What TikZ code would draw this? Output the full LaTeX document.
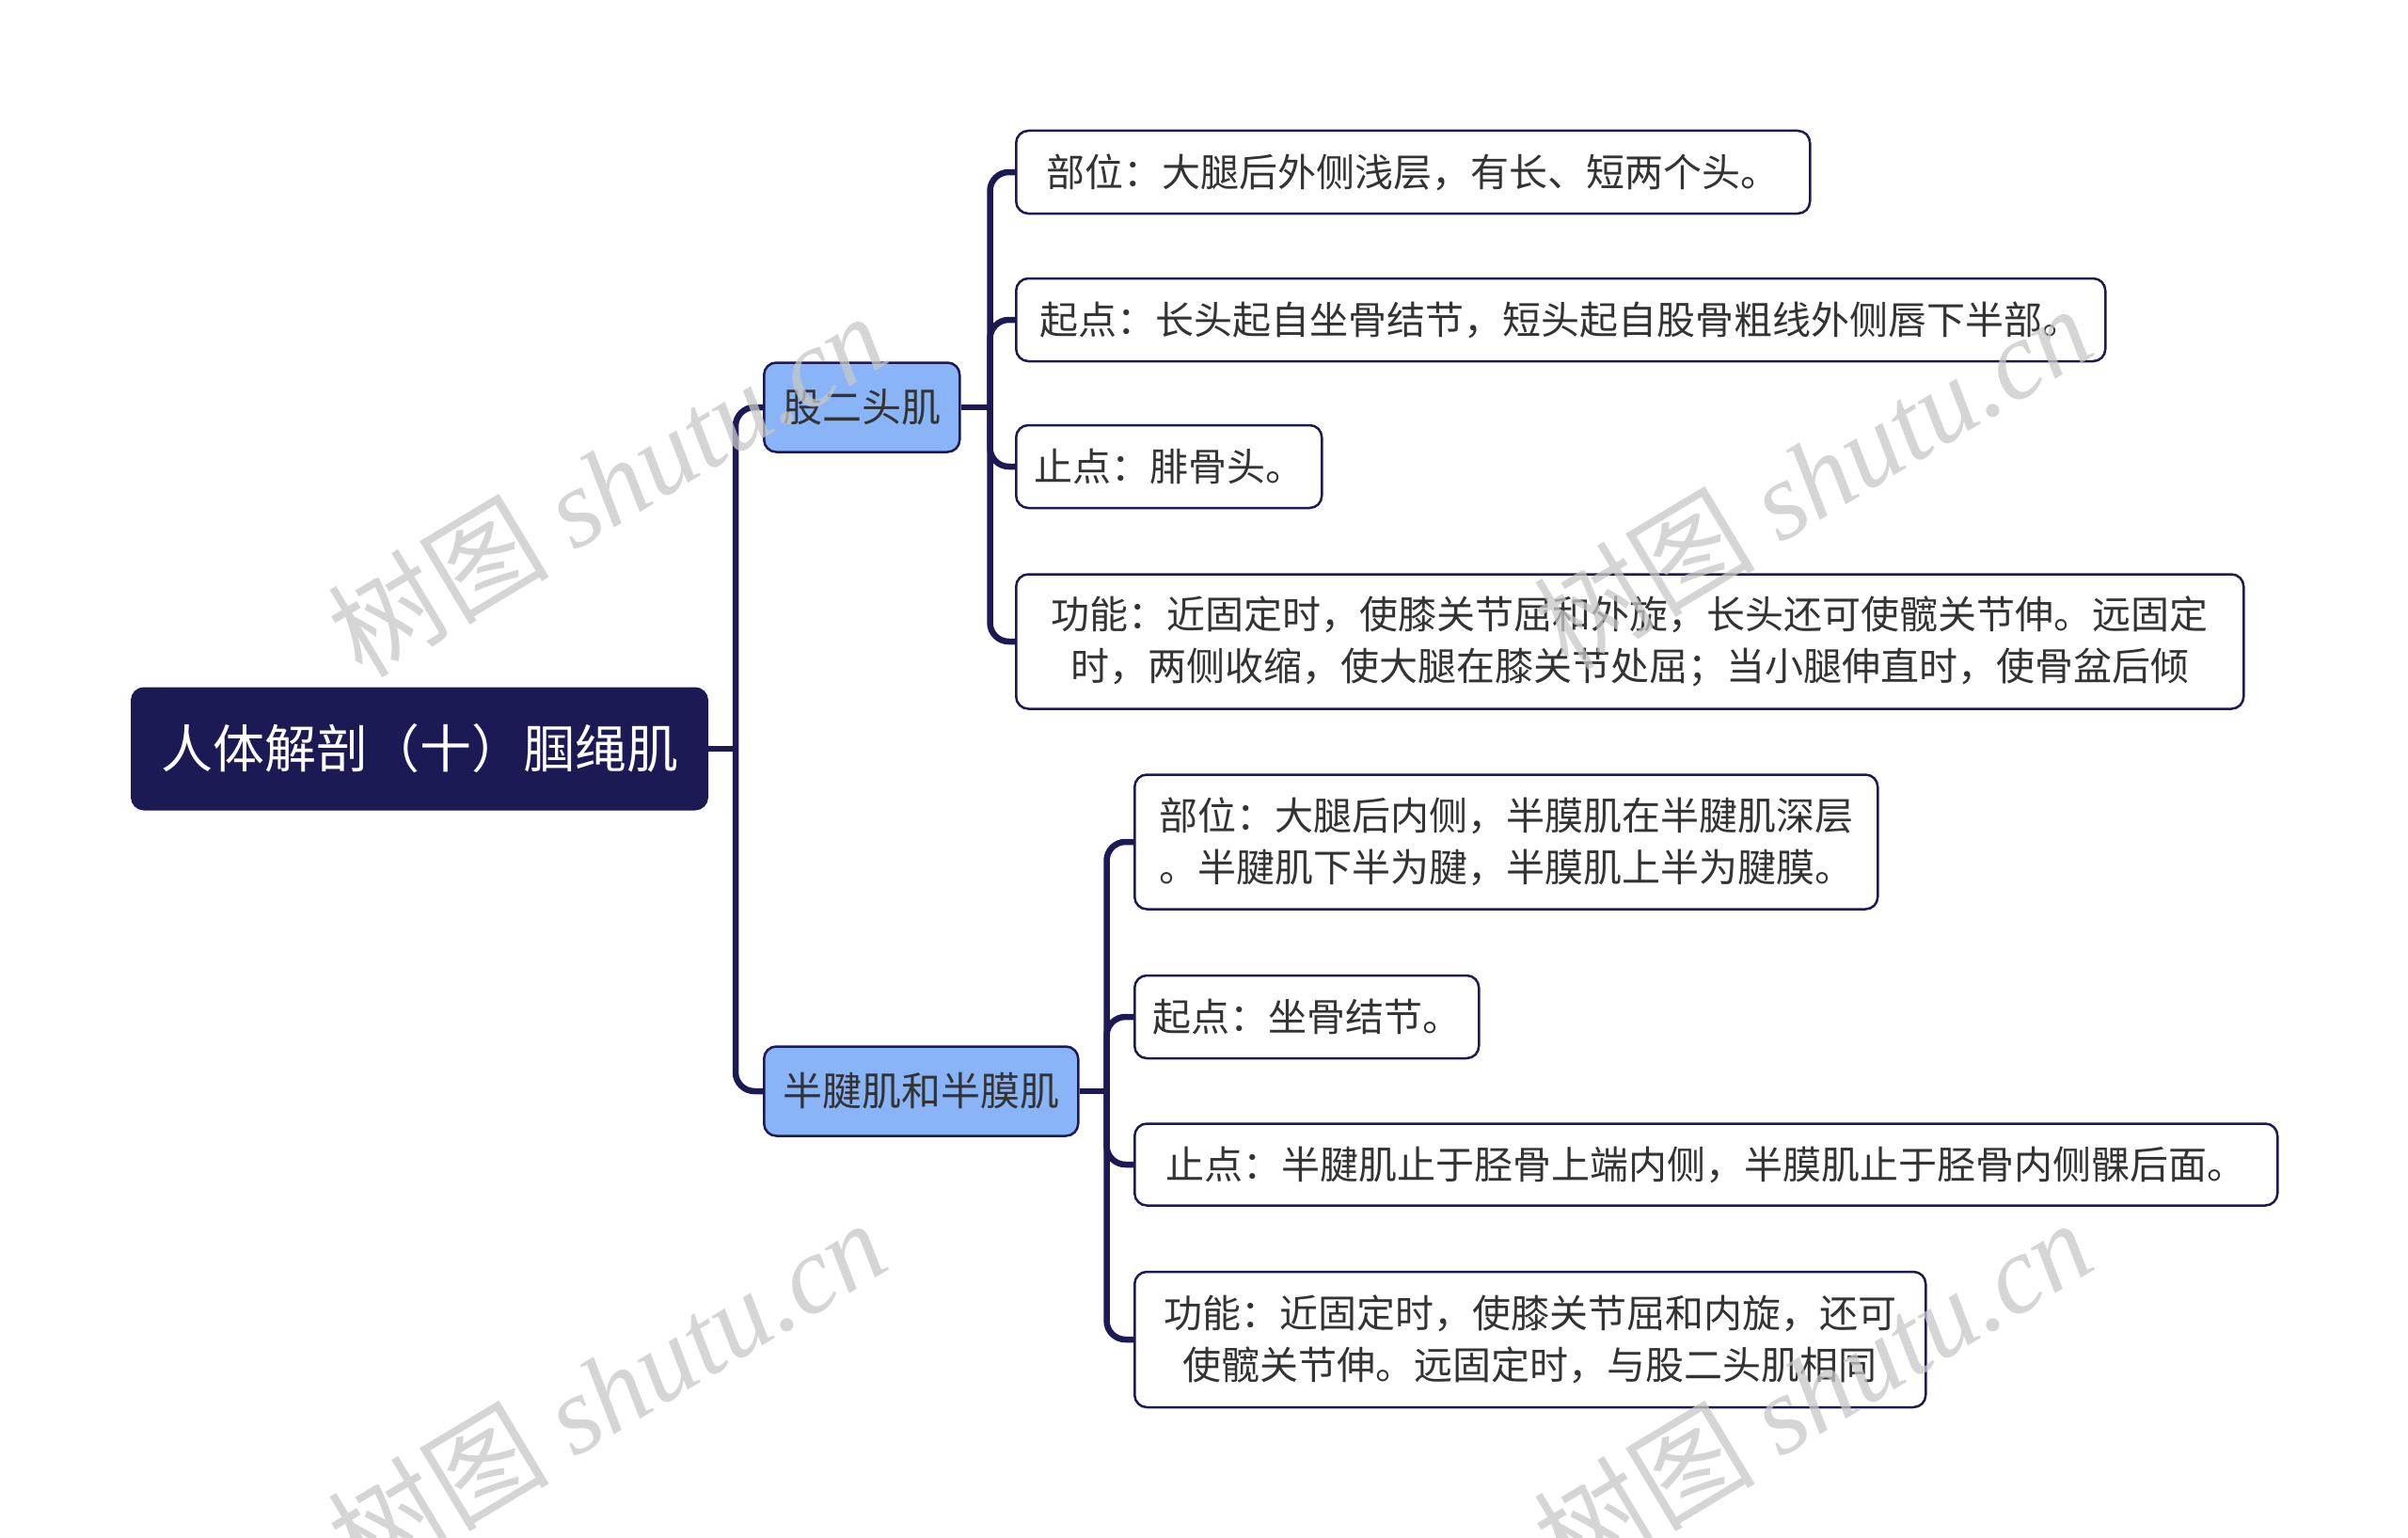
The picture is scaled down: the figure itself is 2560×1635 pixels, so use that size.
\documentclass[tikz,border=0pt]{standalone}
\usepackage{fontspec}
\setmainfont{Noto Sans CJK SC}
\newfontfamily\wmfont{Liberation Serif}
\newfontfamily\wmcjk{Noto Sans CJK SC}
\usetikzlibrary{calc}
\definecolor{navy}{HTML}{1C1A54}
\definecolor{branchblue}{HTML}{8AB4F8}
\definecolor{txt}{HTML}{333333}
\begin{document}
\begin{tikzpicture}[x=1pt,y=-1pt,
  conn/.style={draw=navy, line width=6.5pt, rounded corners=20pt},
  rootbox/.style={draw=navy, fill=navy, line width=2pt, rounded corners=13pt, inner sep=0pt, text=white,
    font=\fontsize{55}{66}\selectfont, anchor=west, minimum width=612pt, minimum height=129pt},
  branchbox/.style={draw=navy, fill=branchblue, line width=2.5pt, rounded corners=13pt, inner sep=0pt, text=txt,
    font=\fontsize{42}{55}\selectfont, anchor=west, minimum height=95pt},
  leafbox/.style={draw=navy, fill=white, line width=2.5pt, rounded corners=13pt, inner sep=0pt, text=txt,
    font=\fontsize{41}{55}\selectfont, anchor=west, minimum height=88pt, align=center},
  wm/.style={text=black!22, opacity=0.75, font=\fontsize{118}{125}\selectfont, rotate=31}
]
\useasboundingbox (0,0) rectangle (2560,1635);
\fill[white] (0,0) rectangle (2560,1635);

% nodes
\node[rootbox] (root) at (139,796) {人体解剖（十）腘绳肌};
\node[branchbox, minimum width=208pt] (b1) at (811,433) {股二头肌};
\node[branchbox, minimum width=334pt] (b2) at (811,1160) {半腱肌和半膜肌};

\node[leafbox, minimum width=844pt] (l1) at (1079,183) {部位：大腿后外侧浅层，有长、短两个头。};
\node[leafbox, minimum width=1158pt] (l2) at (1079,340) {起点：长头起自坐骨结节，短头起自股骨粗线外侧唇下半部。};
\node[leafbox, minimum width=325pt] (l3) at (1079,496) {止点：腓骨头。};
\node[leafbox, minimum width=1305pt, minimum height=143pt] (l4) at (1079,682) {功能：近固定时，使膝关节屈和外旋，长头还可使髋关节伸。远固定\\时，两侧收缩，使大腿在膝关节处屈；当小腿伸直时，使骨盆后倾};

\node[leafbox, minimum width=790pt, minimum height=143pt] (m1) at (1205,895) {部位：大腿后内侧，半膜肌在半腱肌深层\\。半腱肌下半为腱，半膜肌上半为腱膜。};
\node[leafbox, minimum width=366pt] (m2) at (1205,1081) {起点：坐骨结节。};
\node[leafbox, minimum width=1215pt, minimum height=87pt] (m3) at (1205,1238) {止点：半腱肌止于胫骨上端内侧，半膜肌止于胫骨内侧髁后面。};
\node[leafbox, minimum width=841pt, minimum height=144pt] (m4) at (1205,1424) {功能：近固定时，使膝关节屈和内旋，还可\\使髋关节伸。远固定时，与股二头肌相同};

% connectors
\coordinate (t0) at ($(root.east)+(29,0)$);
\draw[conn] (root.east) -- (t0);
\draw[conn] (t0) |- (b1.west);
\draw[conn] (t0) |- (b2.west);

\coordinate (t1) at ($(b1.east)+(31,0)$);
\draw[conn] (b1.east) -- (t1);
\foreach \n in {l1,l2,l3,l4} \draw[conn] (t1) |- (\n.west);

\coordinate (t2) at ($(b2.east)+(29,0)$);
\draw[conn] (b2.east) -- (t2);
\foreach \n in {m1,m2,m3,m4} \draw[conn] (t2) |- (\n.west);

% watermarks
\node[wm] (w1) at (645,514) {\wmcjk 树图 \wmfont\itshape shutu.cn};
\node[wm] (w2) at (1927,506) {\wmcjk 树图 \wmfont\itshape shutu.cn};
\node[wm] (w3) at (645,1478) {\wmcjk 树图 \wmfont\itshape shutu.cn};
\node[wm] (w4) at (1927,1478) {\wmcjk 树图 \wmfont\itshape shutu.cn};
\end{tikzpicture}
\end{document}
